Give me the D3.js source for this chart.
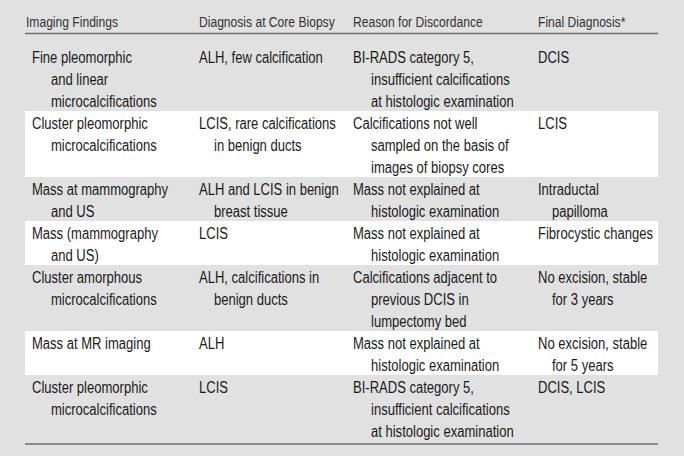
<!DOCTYPE html>
<html><head><meta charset="utf-8">
<script src="https://cdn.jsdelivr.net/npm/d3@7"></script>
<style>
html,body{margin:0;padding:0;background:#e1e1e1;}
svg{display:block;}
</style></head>
<body>
<script>
const headers = ["Imaging Findings", "Diagnosis at Core Biopsy", "Reason for Discordance", "Final Diagnosis*"];
const imagingFindings = [
  ["Fine pleomorphic", "and linear", "microcalcifications"],
  ["Cluster pleomorphic", "microcalcifications"],
  ["Mass at mammography", "and US"],
  ["Mass (mammography", "and US)"],
  ["Cluster amorphous", "microcalcifications"],
  ["Mass at MR imaging"],
  ["Cluster pleomorphic", "microcalcifications"]
];
const coreBiopsy = [
  ["ALH, few calcification"],
  ["LCIS, rare calcifications", "in benign ducts"],
  ["ALH and LCIS in benign", "breast tissue"],
  ["LCIS"],
  ["ALH, calcifications in", "benign ducts"],
  ["ALH"],
  ["LCIS"]
];
const discordanceReason = [
  ["BI-RADS category 5,", "insufficient calcifications", "at histologic examination"],
  ["Calcifications not well", "sampled on the basis of", "images of biopsy cores"],
  ["Mass not explained at", "histologic examination"],
  ["Mass not explained at", "histologic examination"],
  ["Calcifications adjacent to", "previous DCIS in", "lumpectomy bed"],
  ["Mass not explained at", "histologic examination"],
  ["BI-RADS category 5,", "insufficient calcifications", "at histologic examination"]
];
const finalDiagnosis = [
  ["DCIS"],
  ["LCIS"],
  ["Intraductal", "papilloma"],
  ["Fibrocystic changes"],
  ["No excision, stable", "for 3 years"],
  ["No excision, stable", "for 5 years"],
  ["DCIS, LCIS"]
];

const W = 684, H = 456;
const columns = [imagingFindings, coreBiopsy, discordanceReason, finalDiagnosis];
const headerX = [26, 199, 353, 538];
const firstX = [32, 199, 353, 538];
const contX = [51, 214, 371, 552];

const nRows = imagingFindings.length;
const rowLines = d3.range(nRows).map(i => d3.max(columns, c => c[i].length));
const starts = [0];
rowLines.forEach((n, i) => starts.push(starts[i] + n));
const totalLines = starts[nRows];

const y = d3.scaleLinear().domain([0, totalLines]).range([45, 441]);
const left = 25, right = 658;
const font = "'Liberation Sans', Arial, sans-serif";

const svg = d3.select("body").append("svg").attr("width", W).attr("height", H);
svg.append("rect").attr("width", W).attr("height", H).attr("fill", "#e1e1e1");

// alternate white bands
svg.selectAll("rect.band").data(d3.range(nRows).filter(i => i % 2 === 1)).join("rect")
  .attr("class", "band")
  .attr("x", left).attr("width", right - left)
  .attr("y", i => y(starts[i])).attr("height", i => y(starts[i + 1]) - y(starts[i]))
  .attr("fill", "#ffffff");

// rules
svg.selectAll("line.rule").data([33.5, 444]).join("line")
  .attr("class", "rule")
  .attr("x1", left).attr("x2", right).attr("y1", d => d).attr("y2", d => d)
  .attr("stroke", "#6e6e6e").attr("stroke-width", 1.6);

// headers
svg.selectAll("text.hdr").data(headers).join("text")
  .attr("class", "hdr")
  .attr("transform", (d, i) => `translate(${headerX[i]},27) scale(0.807,1)`)
  .attr("font-family", font).attr("font-size", 15).attr("fill", "#333")
  .text(d => d);

// body cells
const cells = [];
columns.forEach((col, c) => col.forEach((lines, r) => lines.forEach((t, k) => {
  cells.push({ t, x: k === 0 ? firstX[c] : contX[c], line: starts[r] + k });
})));
svg.selectAll("text.cell").data(cells).join("text")
  .attr("class", "cell")
  .attr("transform", d => `translate(${d.x},${y(d.line) + 17.5}) scale(0.815,1)`)
  .attr("font-family", font).attr("font-size", 16).attr("fill", "#1a1a1a")
  .text(d => d.t);
</script>
</body></html>
